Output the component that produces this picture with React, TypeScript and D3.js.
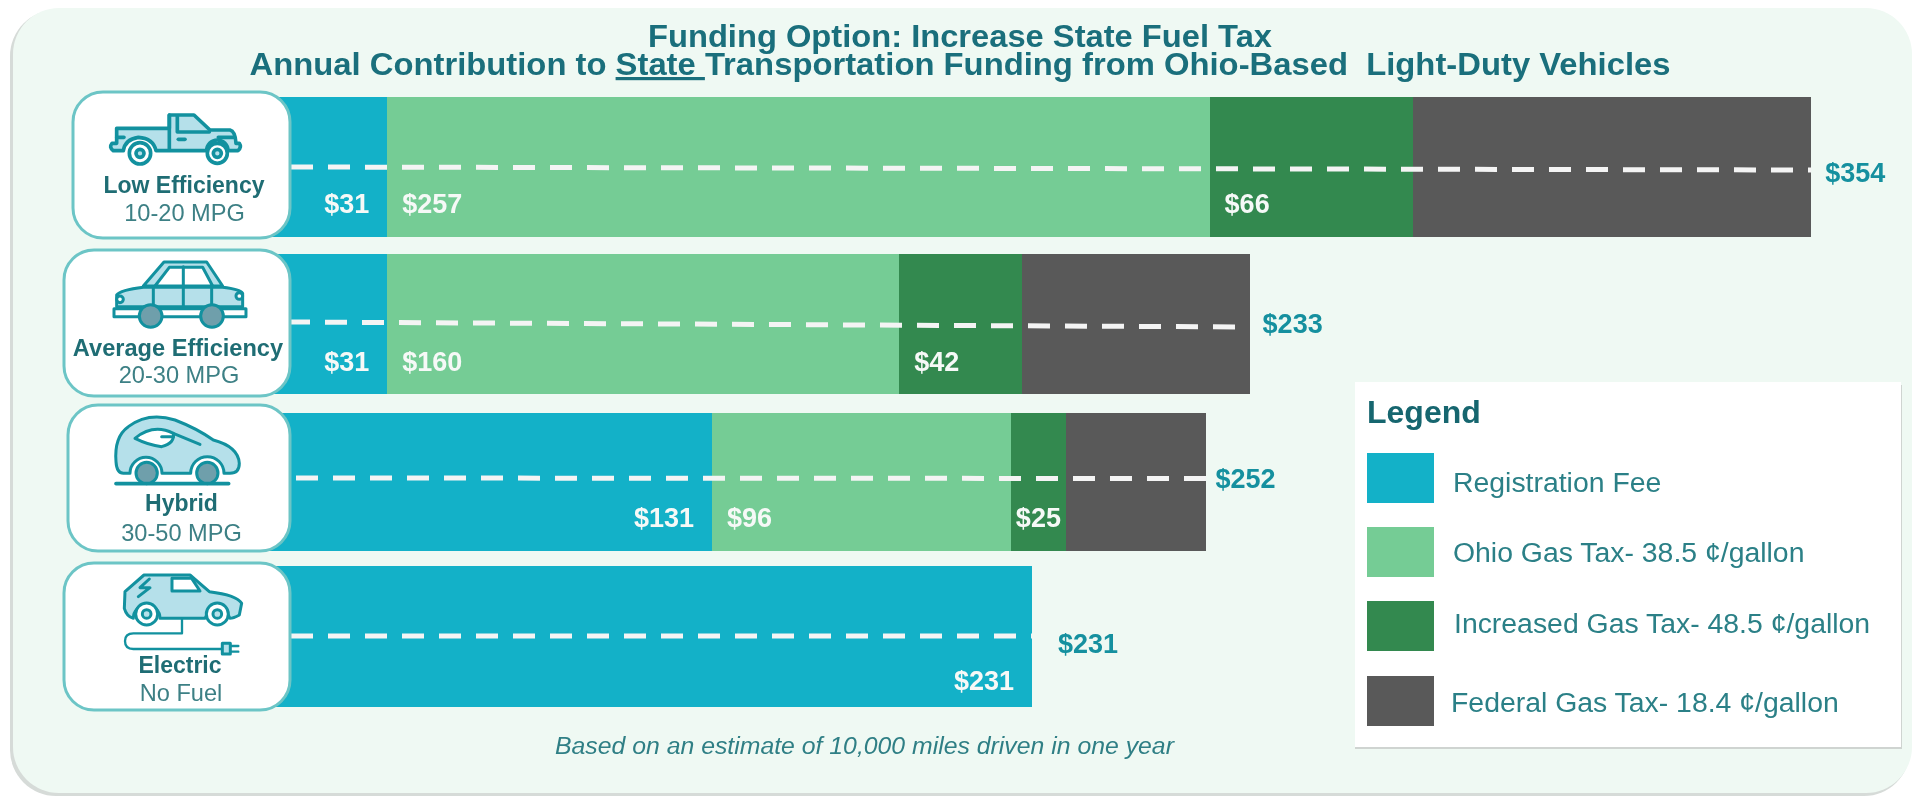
import React from "react";
import * as d3 from "d3";

// ---- data ----
const vehicles = ["Low Efficiency", "Average Efficiency", "Hybrid", "Electric"];
const vehicleNotes = ["10-20 MPG", "20-30 MPG", "30-50 MPG", "No Fuel"];
const seriesKeys = ["registration", "ohioTax", "increasedTax", "federalTax"];
// drawn lengths of the segments, in dollars of the axis
const registrationLength = [31, 31, 132.5, 232.5];
const ohioTaxLength = [257, 160, 93.5, 0];
const increasedTaxLength = [63.5, 38.5, 17, 0];
const federalTaxLength = [124.5, 71, 44, 0];
// printed values
const registrationLabels = ["$31", "$31", "$131", "$231"];
const ohioTaxLabels = ["$257", "$160", "$96", ""];
const increasedTaxLabels = ["$66", "$42", "$25", ""];
const totalLabels = ["$354", "$233", "$252", "$231"];
const legendLabels = [
  "Registration Fee",
  "Ohio Gas Tax- 38.5 ¢/gallon",
  "Increased Gas Tax- 48.5 ¢/gallon",
  "Federal Gas Tax- 18.4 ¢/gallon",
];

// ---- layout & style ----
const W = 1914;
const H = 798;
const FONT = "'Liberation Sans', Arial, sans-serif";
const colors = ["#13b1c8", "#75cc95", "#33894f", "#595959"];
const rowBars = [[97, 237], [254, 394], [413, 551], [566, 707]];
const rowBoxes = [[73, 92, 217, 146], [64, 250, 226, 146], [68, 405, 222, 146], [64, 563, 226, 147]];
const dashY = [[167, 170], [322, 327], [478, 478.5], [636, 636]];
const dashStart = [291, 288, 296, 291];
const nameLabel = [[184, 193], [178, 356], [181.5, 511], [180, 673]];
const noteLabel = [[184.5, 221], [179, 383], [181.5, 541], [181, 701]];
const labelBase = [213, 371, 527, 690];
const totalGap = [14, 13, 9, 26];
const totalBase = [182, 333, 488, 653];
const tuck = 30;
const legendSwatch = [453, 527, 601, 676];
const legendTextX = [1453, 1453, 1454, 1451];
const legendTextY = [492, 562, 633, 712];

const x = d3.scaleLinear().domain([0, 100]).range([288, 608]);

const table = vehicles.map((_, i) => ({
  registration: registrationLength[i],
  ohioTax: ohioTaxLength[i],
  increasedTax: increasedTaxLength[i],
  federalTax: federalTaxLength[i],
}));
const stacked = d3.stack().keys(seriesKeys)(table as any);
const printed = [registrationLabels, ohioTaxLabels, increasedTaxLabels];

const OUT = "#12919f";
const FILL = "#b5e0ea";
const HUB = "#6f9fab";

function Truck() {
  return (
    <g transform="translate(90,100) scale(0.3333)" fill={FILL} stroke={OUT} strokeWidth={11} strokeLinejoin="round" strokeLinecap="round">
      <path d="M80 85 H238 V45 H312 L360 90 H420 Q436 94 438 130 H448 Q456 142 444 152 H414 A32 32 0 0 0 350 152 H198 Q190 115 145 112 Q105 118 100 152 H70 Q56 142 66 130 H80 Z" />
      <path d="M262 48 V96 H358 M238 45 V150" fill="none" />
      <path d="M265 118 H285" fill="none" />
      <path d="M80 112 H102 M385 112 H432" fill="none" />
      <circle cx="150" cy="160" r="32" fill="#fff" />
      <circle cx="150" cy="160" r="12" fill={FILL} />
      <circle cx="382" cy="160" r="30" fill="#fff" />
      <circle cx="382" cy="160" r="12" fill={FILL} />
    </g>
  );
}
function Sedan() {
  return (
    <g transform="translate(90,250) scale(0.3333)" fill={FILL} stroke={OUT} strokeWidth={9} strokeLinejoin="round" strokeLinecap="round">
      <path d="M160 108 L222 36 H350 L398 108 Z" fill={FILL} />
      <path d="M195 108 L238 52 H338 L368 108 Z" fill="#fff" />
      <path d="M80 135 Q92 120 160 112 H398 Q450 118 458 130 V170 H80 Z" />
      <path d="M280 50 V170 M190 112 V170 M365 112 V170" fill="none" />
      <rect x="72" y="176" width="396" height="24" fill="#fff" />
      <circle cx="90" cy="148" r="10" fill="#fff" />
      <circle cx="448" cy="138" r="10" fill="#fff" />
      <circle cx="182" cy="198" r="34" fill={HUB} />
      <circle cx="366" cy="198" r="34" fill={HUB} />
    </g>
  );
}
function HybridCar() {
  return (
    <g transform="translate(90,405) scale(0.3333)" fill={FILL} stroke={OUT} strokeWidth={9} strokeLinejoin="round" strokeLinecap="round">
      <path d="M78 170 Q72 95 115 65 Q175 20 255 45 Q320 70 370 105 Q445 125 448 175 Q448 205 420 205 H402 A48 48 0 0 0 302 205 H216 A48 48 0 0 0 120 205 H100 Q80 205 78 170 Z" />
      <path d="M135 100 Q190 55 250 85 Q255 115 215 125 Q175 120 135 100 Z" fill="#fff" />
      <path d="M215 95 H250 M250 85 L330 118" fill="none" />
      <circle cx="170" cy="204" r="32" fill={HUB} />
      <circle cx="352" cy="204" r="32" fill={HUB} />
      <path d="M78 236 H416" fill="none" strokeWidth={11} />
    </g>
  );
}
function ElectricCar() {
  return (
    <g transform="translate(90,565) scale(0.3333)" fill={FILL} stroke={OUT} strokeWidth={9} strokeLinejoin="round" strokeLinecap="round">
      <path d="M105 80 L162 30 H300 L358 80 Q440 90 455 115 L448 150 Q430 160 420 160 A40 40 0 0 0 345 160 H210 A40 40 0 0 0 130 160 Q110 155 103 130 Z" />
      <path d="M246 40 H305 L330 78 H246 Z" fill="#fff" />
      <path d="M178 42 L150 68 H180 L145 95" fill="none" />
      <circle cx="170" cy="147" r="33" fill="#fff" />
      <circle cx="170" cy="147" r="13" fill={FILL} />
      <circle cx="382" cy="147" r="33" fill="#fff" />
      <circle cx="382" cy="147" r="13" fill={FILL} />
      <path d="M276 160 V205 H130 Q105 205 105 228 Q105 252 130 252 H395" fill="none" strokeWidth={7} />
      <rect x="397" y="235" width="24" height="32" />
      <path d="M421 243 H445 M421 260 H445" fill="none" strokeWidth={7} />
    </g>
  );
}
const icons = [Truck, Sedan, HybridCar, ElectricCar];

export default function App() {
  return (
    <svg width={W} height={H} viewBox={`0 0 ${W} ${H}`} style={{ position: "absolute", left: 0, top: 0, display: "block", filter: "blur(0.5px)" }} fontFamily={FONT}>
      <rect width={W} height={H} fill="#fff" />
      <rect x={10} y={10} width={1900} height={786} rx={46} fill="#d6dbd8" />
      <rect x={13} y={8} width={1899} height={785} rx={46} fill="#eff9f3" />

      <text x={960} y={47} textAnchor="middle" fontSize={32} fontWeight={700} fill="#1a6f7c" textLength={624} lengthAdjust="spacingAndGlyphs">
        Funding Option: Increase State Fuel Tax
      </text>
      <text x={960} y={75} textAnchor="middle" fontSize={32} fontWeight={700} fill="#1a6f7c" textLength={1421} lengthAdjust="spacingAndGlyphs" xmlSpace="preserve">
        Annual Contribution to <tspan textDecoration="underline">State </tspan>Transportation Funding from Ohio-Based  Light-Duty Vehicles
      </text>

      {stacked.map((layer, s) => (
        <g key={seriesKeys[s]} fill={colors[s]} shapeRendering="crispEdges">
          {layer.map((d, i) => {
            if (d[1] - d[0] <= 0) return null;
            const x0 = x(d[0]) - (s === 0 ? tuck : 0);
            return <rect key={i} x={x0} y={rowBars[i][0]} width={x(d[1]) - x0} height={rowBars[i][1] - rowBars[i][0]} />;
          })}
        </g>
      ))}

      {vehicles.map((_, i) => {
        const end = x(stacked[3][i][1]);
        return (
          <line key={i} x1={dashStart[i]} x2={end} y1={dashY[i][0]} y2={dashY[i][1]} stroke="#f4f4f4" strokeWidth={5} strokeDasharray="22 15" />
        );
      })}

      {printed.map((labels, s) =>
        labels.map((t, i) => {
          if (!t) return null;
          const d = stacked[s][i];
          const wide = x(d[1]) - x(d[0]) > 70;
          const px = s === 0 ? x(d[1]) - 18 : wide ? x(d[0]) + 15 : (x(d[0]) + x(d[1])) / 2;
          const anchor = s === 0 ? "end" : wide ? "start" : "middle";
          return (
            <text key={`${s}-${i}`} x={px} y={labelBase[i]} textAnchor={anchor} fontSize={27} fontWeight={700} fill="#f6f9f7">
              {t}
            </text>
          );
        })
      )}

      {totalLabels.map((t, i) => (
        <text key={i} x={x(stacked[3][i][1]) + totalGap[i]} y={totalBase[i]} fontSize={27} fontWeight={700} fill="#15909f">
          {t}
        </text>
      ))}

      {vehicles.map((name, i) => {
        const Icon = icons[i];
        const b = rowBoxes[i];
        return (
          <g key={name}>
            <rect x={b[0]} y={b[1]} width={b[2]} height={b[3]} rx={30} fill="#fff" stroke="#6cc5c6" strokeWidth={3} />
            <Icon />
            <text x={nameLabel[i][0]} y={nameLabel[i][1]} textAnchor="middle" fontSize={i === 1 ? 23.6 : 23} fontWeight={700} fill="#1f6d74">
              {name}
            </text>
            <text x={noteLabel[i][0]} y={noteLabel[i][1]} textAnchor="middle" fontSize={23.6} fill="#3d8085">
              {vehicleNotes[i]}
            </text>
          </g>
        );
      })}

      <rect x={1355} y={385} width={547} height={364} fill="#cfd4d1" />
      <rect x={1355} y={382} width={546} height={365} fill="#fff" />
      <text x={1367} y={423} fontSize={32} fontWeight={700} fill="#16666f">Legend</text>
      {legendLabels.map((t, i) => (
        <g key={t}>
          <rect x={1367} y={legendSwatch[i]} width={67} height={50} fill={colors[i]} />
          <text x={legendTextX[i]} y={legendTextY[i]} fontSize={28.4} fill="#2b8087">{t}</text>
        </g>
      ))}

      <text x={555} y={754} fontSize={24.8} fontStyle="italic" fill="#2f7f85">
        Based on an estimate of 10,000 miles driven in one year
      </text>
    </svg>
  );
}
